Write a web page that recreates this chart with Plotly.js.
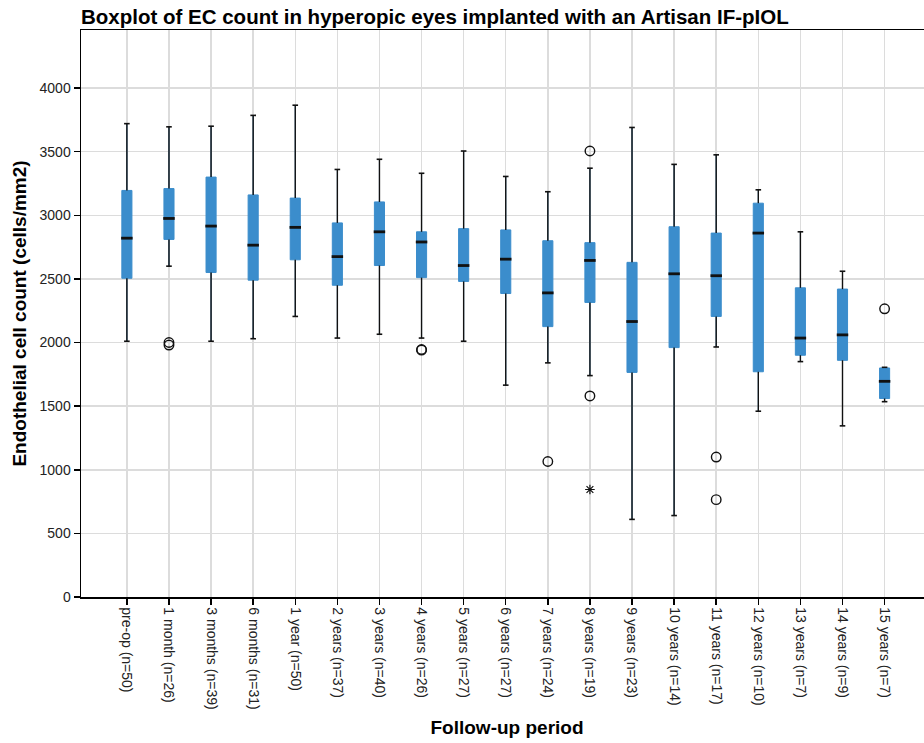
<!DOCTYPE html>
<html>
<head>
<meta charset="utf-8">
<script src="https://cdn.plot.ly/plotly-3.0.1.min.js"></script>
<style>
html, body { margin: 0; padding: 0; overflow: hidden; background: #fff; }
#chart { width: 940px; height: 743px; }
</style>
</head>
<body>
<div id="chart"></div>
<script>
const categories = ['pre-op (n=50)', '1 month (n=26)', '3 months (n=39)', '6 months (n=31)', '1 year (n=50)',
  '2 years (n=37)', '3 years (n=40)', '4 years (n=26)', '5 years (n=27)', '6 years (n=27)', '7 years (n=24)',
  '8 years (n=19)', '9 years (n=23)', '10 years (n=14)', '11 years (n=17)', '12 years (n=10)', '13 years (n=7)',
  '14 years (n=9)', '15 years (n=7)'];
const upperWhisker = [3720, 3695, 3700, 3785, 3865, 3360, 3440, 3330, 3505, 3305, 3185, 3370, 3690, 3400, 3475, 3200, 2870, 2560, 1805];
const q3Values     = [3195, 3210, 3300, 3160, 3135, 2940, 3105, 2870, 2895, 2885, 2800, 2785, 2630, 2910, 2860, 3095, 2430, 2420, 1800];
const medianValues = [2820, 2975, 2915, 2765, 2905, 2675, 2870, 2790, 2605, 2655, 2390, 2645, 2165, 2540, 2525, 2860, 2035, 2060, 1695];
const q1Values     = [2505, 2810, 2550, 2490, 2650, 2450, 2605, 2510, 2480, 2385, 2125, 2315, 1765, 1960, 2205, 1770, 1900, 1860, 1560];
const lowerWhisker = [2010, 2600, 2010, 2030, 2205, 2035, 2065, 2035, 2010, 1665, 1840, 1740, 610, 640, 1965, 1460, 1850, 1345, 1535];

const outlierCats = ['1 month (n=26)', '1 month (n=26)', '4 years (n=26)', '4 years (n=26)', '7 years (n=24)',
  '8 years (n=19)', '8 years (n=19)', '11 years (n=17)', '11 years (n=17)', '15 years (n=7)'];
const outlierValues = [2000, 1980, 1945, 1940, 1065, 3505, 1580, 1100, 765, 2265];
const extremeCats = ['8 years (n=19)'];
const extremeValues = [845];

const boxColor = '#3B8DCC';
const ink = '#111111';

// whisker segments (q3->upper, q1->lower) built from data arrays
const wx = [], wy = [];
categories.forEach((c, i) => {
  wx.push(c, c, null, c, c, null);
  wy.push(q3Values[i], upperWhisker[i], null, q1Values[i], lowerWhisker[i], null);
});

const traces = [
  {
    type: 'box',
    x: categories,
    q1: q1Values,
    median: medianValues,
    q3: q3Values,
    lowerfence: lowerWhisker,
    upperfence: upperWhisker,
    boxpoints: false,
    fillcolor: boxColor,
    line: { color: boxColor, width: 1 },
    whiskerwidth: 0,
    width: 0.24,
    hoverinfo: 'skip',
    showlegend: false
  },
  {
    type: 'scatter', mode: 'lines',
    x: wx, y: wy,
    line: { color: ink, width: 1.4 },
    connectgaps: false,
    hoverinfo: 'skip', showlegend: false
  },
  {
    type: 'scatter', mode: 'markers',
    x: categories.concat(categories),
    y: upperWhisker.concat(lowerWhisker),
    marker: { symbol: 'line-ew', size: 4, line: { color: ink, width: 1.6 } },
    hoverinfo: 'skip', showlegend: false
  },
  {
    type: 'scatter', mode: 'markers',
    x: categories, y: medianValues,
    marker: { symbol: 'line-ew', size: 8.2, line: { color: ink, width: 2.8 } },
    hoverinfo: 'skip', showlegend: false
  },
  {
    type: 'scatter', mode: 'markers',
    x: outlierCats, y: outlierValues,
    marker: { symbol: 'circle-open', size: 9.5, color: ink, line: { color: ink, width: 1.4 } },
    hoverinfo: 'skip', showlegend: false
  },
  {
    type: 'scatter', mode: 'markers',
    x: extremeCats, y: extremeValues,
    marker: { symbol: 'asterisk-open', size: 8, color: ink, line: { color: ink, width: 1.2 } },
    hoverinfo: 'skip', showlegend: false
  }
];

const layout = {
  width: 940, height: 743,
  margin: { l: 81, r: 7, t: 30, b: 146 },
  paper_bgcolor: '#ffffff',
  plot_bgcolor: '#ffffff',
  font: { family: '"Liberation Sans", Arial, sans-serif', color: '#222222', size: 14 },
  title: {
    text: '<b>Boxplot of EC count in hyperopic eyes implanted with an Artisan IF-pIOL</b>',
    font: { size: 20.5, color: '#000000' },
    xref: 'container', x: 81 / 940, xanchor: 'left',
    yref: 'container', y: 1 - 17 / 743, yanchor: 'middle'
  },
  xaxis: {
    type: 'category',
    categoryorder: 'array', categoryarray: categories,
    range: [-1.09, 19.15],
    tickangle: 90,
    ticks: 'outside', ticklen: 6, tickwidth: 1.5, tickcolor: '#000000',
    showgrid: true, gridcolor: '#dcdcdc', gridwidth: 1.5,
    showline: true, linecolor: '#000000', linewidth: 1.5, mirror: true,
    zeroline: false,
    tickfont: { size: 14, color: '#222222' },
    title: { text: '<b>Follow-up period</b>', font: { size: 19, color: '#000000' }, standoff: 12 },
    automargin: false
  },
  yaxis: {
    range: [0, 4456],
    tickvals: [0, 500, 1000, 1500, 2000, 2500, 3000, 3500, 4000],
    ticks: 'outside', ticklen: 6, tickwidth: 1.5, tickcolor: '#000000',
    showgrid: true, gridcolor: '#dcdcdc', gridwidth: 1.5,
    showline: true, linecolor: '#000000', linewidth: 1.5,
    zeroline: false,
    tickfont: { size: 14, color: '#222222' },
    title: { text: '<b>Endothelial cell count (cells/mm2)</b>', font: { size: 19, color: '#000000' }, standoff: 8 },
    automargin: false
  }
};

Plotly.newPlot('chart', traces, layout, { displayModeBar: false, staticPlot: true });
</script>
</body>
</html>
